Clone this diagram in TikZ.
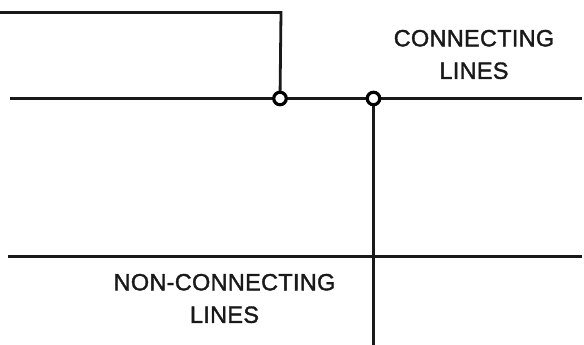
\documentclass[tikz,border=0pt]{standalone}
\usepackage{fontspec}
\setmainfont[FakeBold=1.6,LetterSpace=1.2]{Liberation Sans}
\tikzset{wire/.style={line width=2.8pt,black!90},
junction/.style={circle,draw=black,fill=white,line width=3.2pt,minimum size=12.5pt,inner sep=0pt},
lbl/.style={align=center,font=\fontsize{23.5pt}{32.5pt}\selectfont,text=black!90,inner sep=0pt}}
\begin{document}
\begin{tikzpicture}[x=1pt,y=-1pt]
\useasboundingbox (0,0) rectangle (584,345);
\coordinate (tl) at (0,12.5);
\coordinate (tc) at (281,12.5);
\coordinate (ml) at (10,98.5);
\coordinate (mr) at (582,98.5);
\coordinate (bl) at (8,256.5);
\coordinate (br) at (582,256.5);
\coordinate (vb) at (373.5,345);
\draw[wire] (ml) -- (mr);
\draw[wire] (bl) -- (br);
\node[junction,draw=none,fill=none] (j1) at (280,98.5) {};
\node[junction,draw=none,fill=none] (j2) at (373.5,98.5) {};
\draw[wire,line join=miter] (tl) -- (tc) -- (j1.center);
\draw[wire] (j2.center) -- (vb);
\node[junction] at (j1) {};
\node[junction] at (j2) {};
\node[lbl] (c) at (474,54.5) {CONNECTING\\LINES};
\node[lbl] (n) at (224.5,298.5) {NON-CONNECTING\\LINES};
\end{tikzpicture}
\end{document}
